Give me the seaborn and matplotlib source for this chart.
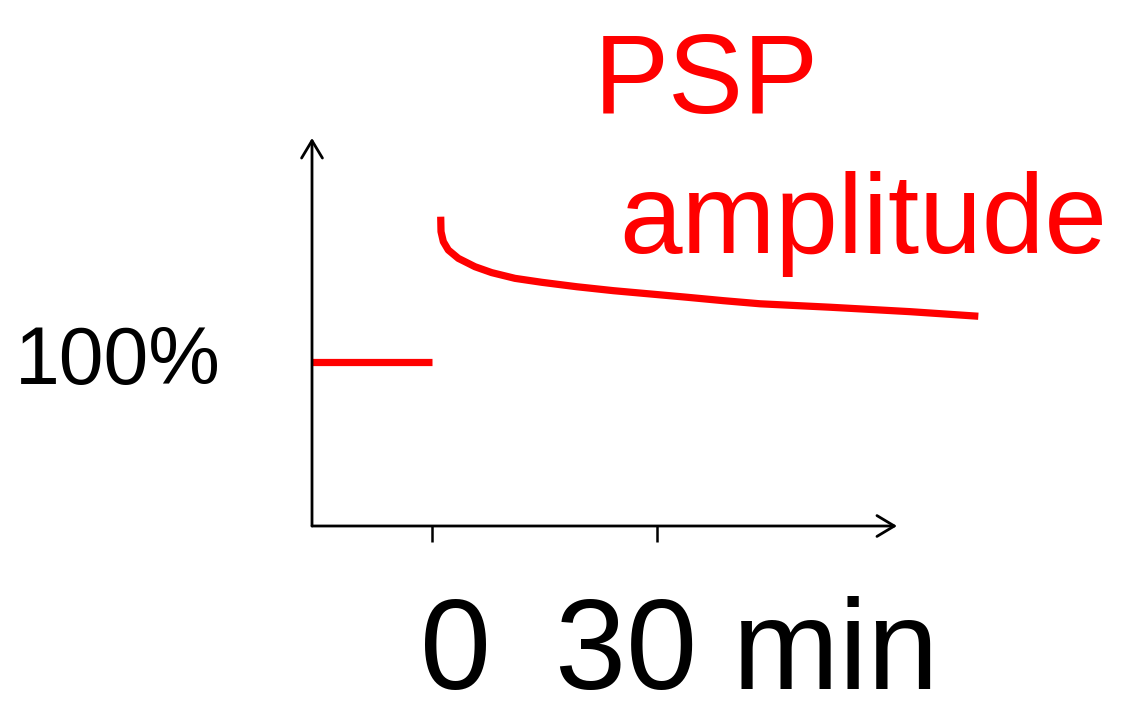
import numpy as np
import pandas as pd
import seaborn as sns
import matplotlib.pyplot as plt

# Baseline before induction (minutes, % of baseline)
base_t = [-16, 0]
base_amp = [100, 100]

# PSP amplitude after induction
post_t = [1.16, 1.2, 1.51, 2.17, 3.51, 5.73, 7.96, 11.07, 14.63, 19.29, 24.17,
          29.07, 33.96, 38.84, 43.73, 53.07, 63.73, 72.84]
post_amp = [188.6, 179.5, 173.4, 168.3, 163.2, 158.1, 154.5, 151.0, 148.6, 145.9, 143.5,
            141.5, 139.5, 137.4, 135.5, 133.4, 130.7, 127.9]

tick_pos = [0, 30]

sns.set_style('white')
plt.rcParams['font.family'] = ['Liberation Sans', 'DejaVu Sans']
plt.rcParams['text.color'] = 'black'

fig = plt.figure(figsize=(11.35, 7.17), dpi=100)
ax = fig.add_axes([0, 0, 1, 1])

# data range so that 0 min sits at x=432 px, 30 min at 657 px, 0 % at y=526 px
ax.set_xlim(-57.6, 93.73)
ax.set_ylim(-116.46, 320.73)
ax.axis('off')

# axes with arrow heads
arrow = dict(arrowstyle='->,head_length=1.25,head_width=0.75', lw=2, color='black',
             shrinkA=0, shrinkB=0)
ax.annotate('', xy=(-16, 236.6), xytext=(-16, 0), arrowprops=arrow)
ax.annotate('', xy=(62.0, 0), xytext=(-16, 0), arrowprops=arrow)

# tick marks below the x axis
for t in tick_pos:
    ax.plot([t, t], [0, -9.5], color='black', lw=1.8, solid_capstyle='butt')

base = pd.DataFrame({'t': base_t, 'amp': base_amp})
post = pd.DataFrame({'t': post_t, 'amp': post_amp})
sns.lineplot(data=base, x='t', y='amp', color='red', lw=5.2, ax=ax, solid_capstyle='butt')
sns.lineplot(data=post, x='t', y='amp', color='red', lw=5.2, ax=ax, sort=False,
             solid_capstyle='butt', solid_joinstyle='round')

# labels
fig.text(15 / 1135, 1 - 363 / 717, '100%', fontsize=58, va='center', ha='left', color='black')
fig.text(594 / 1135, 1 - 113 / 717, 'PSP', fontsize=81, color='red', va='baseline', ha='left')
fig.text(619 / 1135, 1 - 253 / 717, 'amplitude', fontsize=81, color='red', va='baseline', ha='left')
fig.text(420 / 1135, 0.002, '0', fontsize=92, va='bottom', ha='left', color='black')
fig.text(555 / 1135, 0.002, '30 min', fontsize=92, va='bottom', ha='left', color='black')

plt.savefig('out.png', dpi=100)
